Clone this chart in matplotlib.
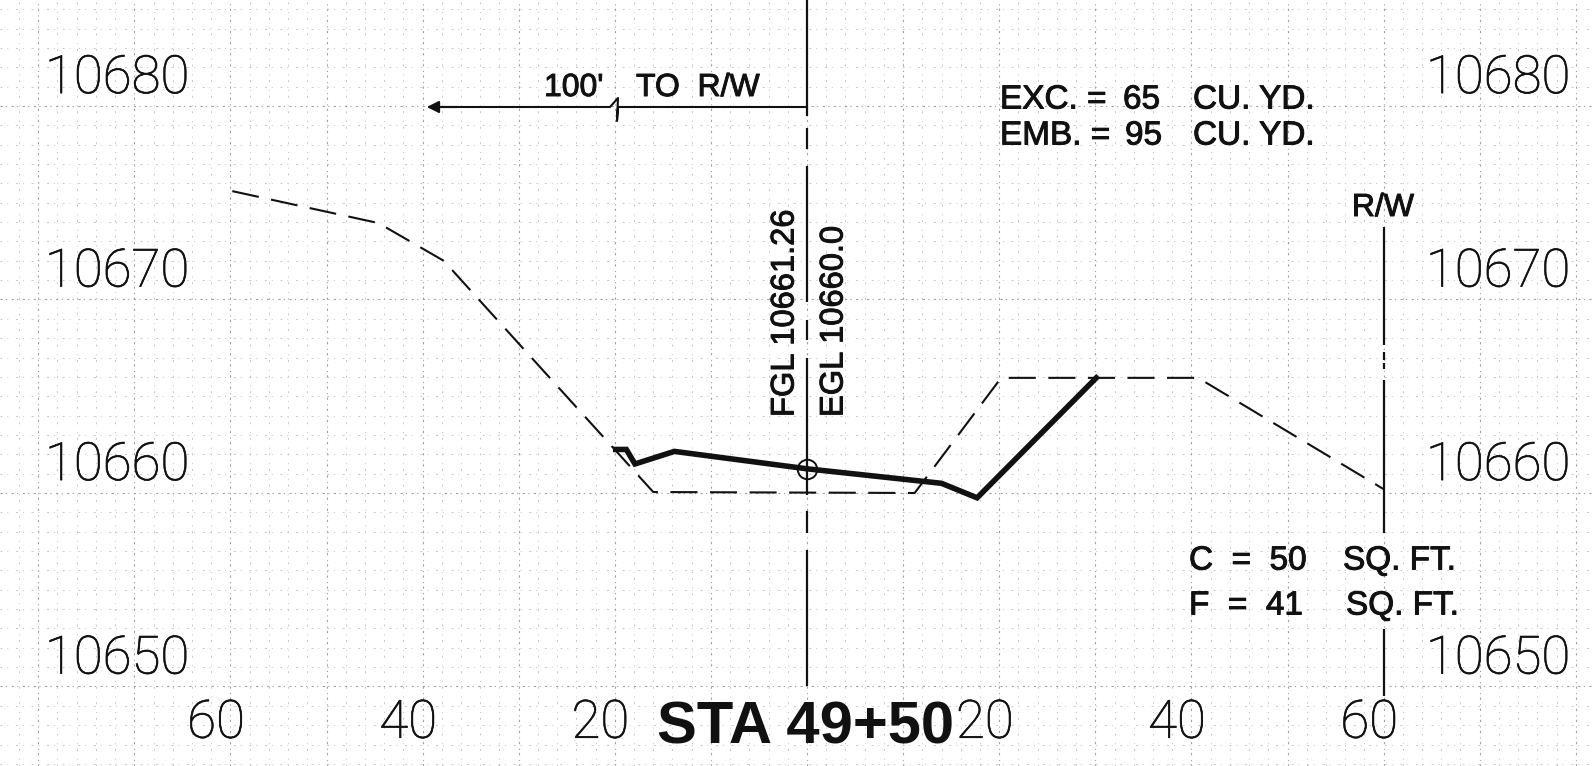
import numpy as np
import matplotlib
matplotlib.use('Agg')
import matplotlib.pyplot as plt
import matplotlib.patheffects as pe

plt.rcParams['font.family'] = ['Liberation Sans', 'DejaVu Sans']

# elevations along the axes
elev_labels = [10680, 10670, 10660, 10650]
offset_labels = [-60, -40, -20, 20, 40, 60]

# existing ground (dashed)
ground_x = [-59.8, -44.6, -37.8, -16.0, 11.2, 20.2, 40.7, 60.0]
ground_y = [10674.05, 10672.4, 10670.45, 10658.5, 10658.45, 10664.4, 10664.4, 10658.65]

# finished grade (heavy)
grade_x = [-19.9, -18.8, -17.9, -13.8, 0.0, 14.0, 17.7, 30.1]
grade_y = [10660.7, 10660.7, 10659.95, 10660.6, 10659.7, 10658.95, 10658.2, 10664.4]

center_x = 0.0
center_y = 10659.7
rw_x = 60.0

# pixel scale of the scanned sheet
X0, XS = 807.0, 9.61
Y0, YS = 463.0, 19.35
W, H = 1594, 766


def px(x, y):
    return (x - X0) / XS, 10660 - (y - Y0) / YS


fig = plt.figure(figsize=(W / 100, H / 100), dpi=100)
ax = fig.add_axes([0, 0, 1, 1])
for s in ax.spines.values():
    s.set_visible(False)

# grid paper
ax.set_xticks(np.arange(-80, 81, 10))
ax.set_xticks(np.arange(-84, 83, 2), minor=True)
grid_base = 10658.45
ax.set_yticks(grid_base + np.arange(-10, 31, 10))
ax.set_yticks(grid_base + np.arange(-14, 27, 1), minor=True)
ax.tick_params(which='both', length=0, labelbottom=False, labelleft=False)
ax.grid(which='minor', color='#c8c8c8', lw=0.7, ls=(0, (2, 5, 1, 8)))
ax.grid(which='major', color='#a0a0a0', lw=0.8, ls=(0, (2, 3, 1, 4)))
ax.set_axisbelow(True)
# limits after the ticks, set_xticks widens them otherwise
ax.set_xlim(px(0, 0)[0], px(W, 0)[0])
ax.set_ylim(px(0, H)[1], px(0, 0)[1])

# centre line and R/W line, broken by hand on the original
for y1, y2 in [(0, 116), (128, 149), (166, 302), (320, 340), (358, 495), (511, 533), (550, 686)]:
    ax.plot([center_x, center_x], [px(0, y1)[1], px(0, y2)[1]], color='#111111', lw=1.6,
            solid_capstyle='butt')
for y1, y2 in [(227, 345), (352, 360), (363, 369), (380, 533), (629, 696)]:
    ax.plot([rw_x, rw_x], [px(0, y1)[1], px(0, y2)[1]], color='#111111', lw=1.6,
            solid_capstyle='butt')

ax.plot(ground_x, ground_y, color='#111111', lw=1.5, ls=(0, (13, 6)), dash_capstyle='butt')
ax.plot(grade_x, grade_y, color='#111111', lw=4.0, solid_joinstyle='miter')
ax.plot([center_x], [center_y], 'o', ms=14, mfc='none', mec='#111111', mew=1.4)

# 100' to R/W arrow with break mark
bx = [807, 622, 618, 617, 618, 610, 440]
by = [107, 107, 107, 121, 98, 107, 107]
ax.plot(*px(np.array(bx), np.array(by)), color='#111111', lw=1.5)
ax.annotate('', xy=px(424, 107), xytext=px(460, 107),
            arrowprops=dict(arrowstyle='-|>', color='#111111', lw=1.5, mutation_scale=18))

thin = [pe.withStroke(linewidth=0.5, foreground='#111111')]

# elevation labels both sides, thin lettering
for e in elev_labels:
    for lx in [117, 1498]:
        ax.text(px(lx, 0)[0], e - 0.12, str(e), fontsize=38, family='Roboto', fontweight='light',
                ha='center', va='center', color='#111111', path_effects=thin)

for o in offset_labels:
    ax.text(o - 1.5, px(0, 723)[1], str(abs(o)), fontsize=38, family='Roboto', fontweight='light',
            ha='center', va='center', color='#111111', path_effects=thin)

bold = [pe.withStroke(linewidth=0.7, foreground='#111111')]


def note(x, y, s, size=24, **kw):
    ax.text(*px(x, y), s, fontsize=size, color='#111111', path_effects=bold, **kw)


note(544, 88, "100'", size=23, ha='left', va='center')
note(636, 88, "TO  R/W", size=23, ha='left', va='center')
note(1000, 100, "EXC. =", ha='left', va='center')
note(1123, 100, "65", ha='left', va='center')
note(1193, 100, "CU. YD.", ha='left', va='center')
note(1000, 136, "EMB. =", ha='left', va='center')
note(1125, 136, "95", ha='left', va='center')
note(1193, 136, "CU. YD.", ha='left', va='center')
note(1383, 208, "R/W", size=23, ha='center', va='center')
note(1189, 561, "C  =  50", ha='left', va='center')
note(1343, 561, "SQ. FT.", ha='left', va='center')
note(1189, 606, "F  =  41", ha='left', va='center')
note(1346, 606, "SQ. FT.", ha='left', va='center')
note(785, 417, "FGL 10661.26", size=23.5, rotation=90, ha='center', va='bottom')
note(834, 417, "EGL 10660.0", size=23.5, rotation=90, ha='center', va='bottom')

ax.text(*px(806, 728), "STA 49+50", fontsize=43, fontweight='bold', ha='center', va='center',
        color='#111111')

fig.savefig('out.png', dpi=100, facecolor='white')
